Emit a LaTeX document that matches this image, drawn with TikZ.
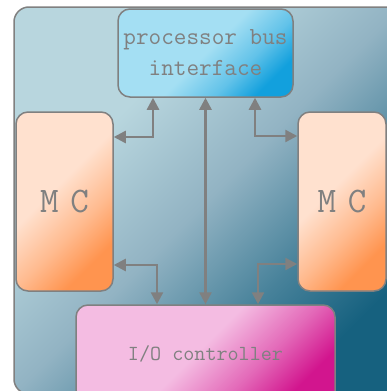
\documentclass[tikz,border=0pt]{standalone}
\usepackage{xcolor}
\usepackage{tikz}
\usetikzlibrary{arrows.meta, calc}
\definecolor{edge}{HTML}{808080}
\definecolor{bglight}{HTML}{B8D6DE}
\definecolor{bgmid}{HTML}{92B3C3}
\definecolor{bgdark}{HTML}{16617F}
\definecolor{buslight}{HTML}{A4DFF3}
\definecolor{busdark}{HTML}{12A0DD}
\definecolor{mclight}{HTML}{FFE1CF}
\definecolor{mcdark}{HTML}{FF944F}
\definecolor{iolight}{HTML}{F4BCE2}
\definecolor{iodark}{HTML}{D2158E}
\pgfdeclareverticalshading{bgfill}{100bp}{color(0bp)=(bgdark); color(25bp)=(bgdark); color(36bp)=(bgdark!60!bgmid); color(50bp)=(bgmid); color(66bp)=(bglight); color(100bp)=(bglight)}
\pgfdeclareverticalshading{busfill}{100bp}{color(0bp)=(busdark); color(25bp)=(busdark); color(36bp)=(busdark!45!buslight); color(50bp)=(buslight); color(100bp)=(buslight)}
\pgfdeclareverticalshading{mcfill}{100bp}{color(0bp)=(mcdark); color(27bp)=(mcdark); color(40bp)=(mcdark!50!mclight); color(56bp)=(mclight); color(100bp)=(mclight)}
\pgfdeclareverticalshading{iofill}{100bp}{color(0bp)=(iodark); color(25bp)=(iodark); color(37bp)=(iodark!50!iolight); color(52bp)=(iolight); color(100bp)=(iolight)}

\begin{document}
\begin{tikzpicture}[x=1pt, y=1pt, font=\ttfamily,
    box/.style={draw=edge, line width=1.5pt, rounded corners=12pt, inner sep=0pt, text=edge, align=center, shading angle=45},
    link/.style={draw=edge, line width=2.5pt, {Triangle[length=12pt, width=12pt]}-{Triangle[length=12pt, width=12pt]}}]
  \useasboundingbox (0,0) rectangle (387,-391);
  \clip (0,0) rectangle (387,-391);
  % background panel
  \shade[shading=bgfill, shading angle=45, draw=edge, line width=1.5pt, rounded corners=15pt] (14,-7) rectangle (400,-394);
  % blocks
  \node[box, shading=busfill, minimum width=175pt, minimum height=88pt, font=\ttfamily\fontsize{24.5}{31}\selectfont] (pbi) at (205.5,-53) {processor bus\\interface};
  \node[box, shading=mcfill, minimum width=97pt, minimum height=179pt, font=\ttfamily\fontsize{36}{40}\selectfont] (lmc) at (64.5,-201.5) {M \kern-7pt C};
  \node[box, shading=mcfill, minimum width=88pt, minimum height=179pt, font=\ttfamily\fontsize{36}{40}\selectfont] (rmc) at (342,-201.5) {M \kern-7pt C};
  \node[box, shading=iofill, minimum width=259pt, minimum height=98pt, font=\ttfamily\fontsize{21.5}{25}\selectfont] (io) at (205.5,-354) {I/O controller};
  % bends of the connectors
  \coordinate (ul) at (153,-137);
  \coordinate (ur) at (255,-136);
  \coordinate (ll) at (157,-265);
  \coordinate (lr) at (258,-264);
  % connectors
  \draw[link] (lmc.east |- ul) -| (pbi.south -| ul);
  \draw[link] (pbi) -- (io);
  \draw[link] (pbi.south -| ur) |- (rmc.west |- ur);
  \draw[link] (lmc.east |- ll) -| (io.north -| ll);
  \draw[link] (io.north -| lr) |- (rmc.west |- lr);
\end{tikzpicture}
\end{document}
